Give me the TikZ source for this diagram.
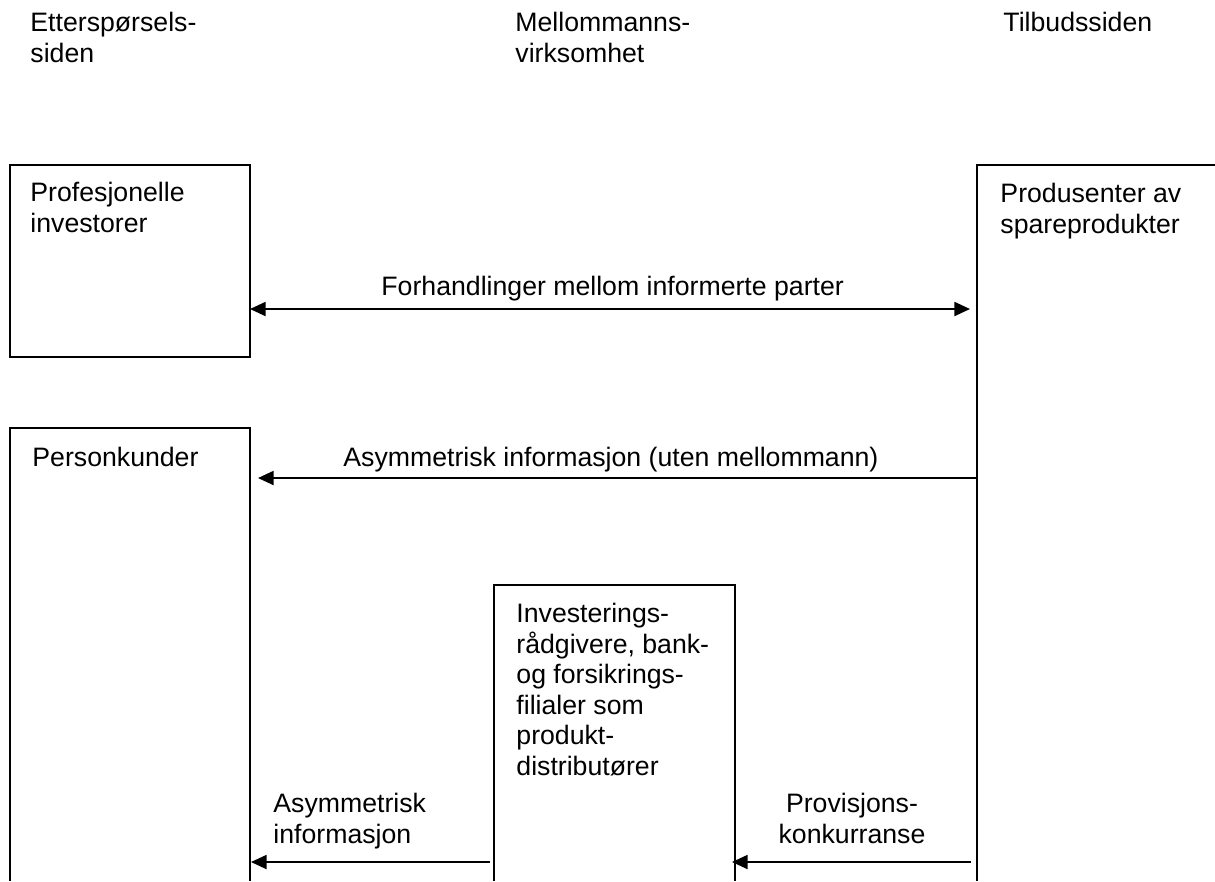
\documentclass[tikz,border=0pt]{standalone}
\usepackage{fontspec}
\setmainfont{Liberation Sans}
\usetikzlibrary{arrows.meta}
\begin{document}
\begin{tikzpicture}[x=0.45pt,y=-0.45pt,
  box/.style={line width=0.9pt},
  lbl/.style={anchor=base west, inner sep=0pt, align=left, font=\fontsize{12}{13.7}\selectfont},
  clbl/.style={anchor=base, inner sep=0pt, align=center, font=\fontsize{12}{13.7}\selectfont},
  arr/.style={line width=0.8pt, -{Triangle[length=7pt,width=6.3pt]}},
  darr/.style={line width=0.8pt, {Triangle[length=7pt,width=6.3pt]}-{Triangle[length=7pt,width=6.3pt]}}]
\useasboundingbox (0,0) rectangle (1215,881);
% boxes
\draw[box] (10,165) rectangle (250,357);
\draw[box] (10,881) -- (10,428) -- (250,428) -- (250,881);
\draw[box] (494,881) -- (494,585) -- (735,585) -- (735,881);
\draw[box] (1215,165) -- (977,165) -- (977,881);
% headings (base = last line)
\node[lbl] (hd1) at (30,62) {Etterspørsels-\\siden};
\node[lbl] (hd2) at (515,62) {Mellommanns-\\virksomhet};
\node[lbl] (hd3) at (1003,31) {Tilbudssiden};
% box labels
\node[lbl] (prof) at (30,232) {Profesjonelle\\investorer};
\node[lbl] (prod) at (1000,233) {Produsenter av\\spareprodukter};
\node[lbl] (pers) at (32,466) {Personkunder};
\node[lbl] (mid) at (516,775) {Investerings-\\rådgivere, bank-\\og forsikrings-\\filialer som\\produkt-\\distributører};
% connector ends
\coordinate (a1) at (250,309);
\coordinate (b1) at (970,309);
\coordinate (a2) at (977,478);
\coordinate (b2) at (258,478);
\coordinate (a3) at (490,862);
\coordinate (b3) at (251,862);
\coordinate (a4) at (971,862);
\coordinate (b4) at (732,862);
\draw[darr] (a1) -- (b1);
\draw[arr] (a2) -- (b2);
\draw[arr] (a3) -- (b3);
\draw[arr] (a4) -- (b4);
% connector labels
\node[lbl] (l1) at (381,295) {Forhandlinger mellom informerte parter};
\node[lbl] (l2) at (343,466) {Asymmetrisk informasjon (uten mellommann)};
\node[lbl] (l3) at (273,843) {Asymmetrisk\\informasjon};
\node[clbl] (l4) at (852,843) {Provisjons-\\konkurranse};
\end{tikzpicture}
\end{document}
